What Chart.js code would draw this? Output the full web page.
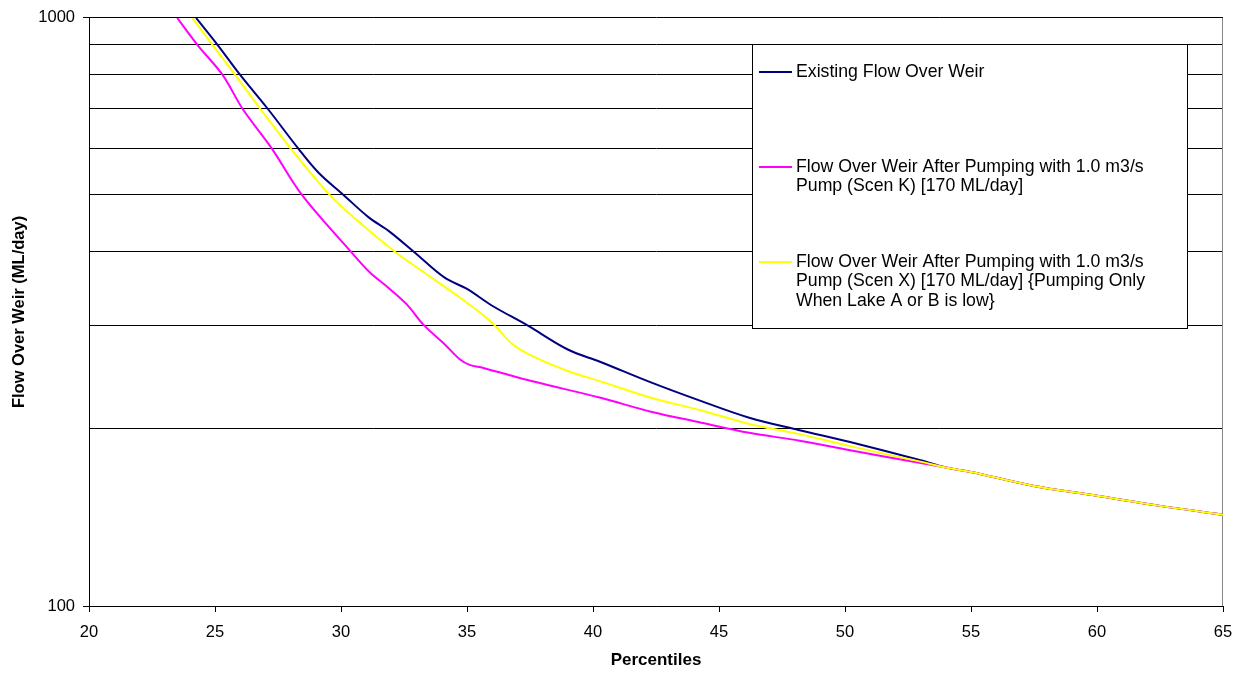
<!DOCTYPE html>
<html>
<head>
<meta charset="utf-8">
<script src="https://cdn.jsdelivr.net/npm/chart.js@4.4.1/dist/chart.umd.min.js"></script>
<style>
  html, body { margin: 0; padding: 0; background: #fff; }
  #wrap { width: 1244px; height: 673px; }
</style>
</head>
<body>
<div id="wrap"><canvas id="chart" width="1244" height="673"></canvas></div>
<script>
// Percentiles (x) and flow over weir in ML/day (y)
const existingPct  = [24.25, 25.1, 26.0, 27.1, 28.3, 29.1, 30.1, 31.1, 31.9, 32.9, 34.1, 35.0, 36.0, 37.4, 39.0, 40.3, 42.3, 44.3, 46.2, 48.2, 50.2, 53.0, 54.0, 55, 57.5, 60, 62.5, 65];
const existingFlow = [1000, 900, 800, 700, 600, 546, 500, 458, 434, 400, 362, 346, 324, 300, 273, 260, 240, 223, 209, 199, 190, 177, 172, 169, 160, 154, 148, 143];

const scenKPct  = [23.5, 24.3, 25.3, 26.1, 27.25, 28.45, 30.4, 31.15, 31.9, 32.6, 33.3, 34.1, 34.7, 35.1, 35.65, 37.6, 40.3, 42.3, 44.3, 46.2, 48.2, 50.2, 53.0, 54.0, 55, 57.5, 60, 62.5, 65];
const scenKFlow = [1000, 900, 800, 700, 600, 500, 400, 369, 347, 326, 300, 279, 263, 257, 254, 241, 226, 214, 205, 197, 191, 184, 175, 172, 169, 160, 154, 148, 143];

const scenXPct  = [24.1, 24.9, 25.8, 26.8, 28.0, 29.55, 30.6, 32.15, 33.3, 34.7, 35.7, 36.1, 36.8, 37.6, 39.0, 40.3, 42.3, 44.3, 46.2, 48.2, 50.2, 53.0, 54.0, 55, 57.5, 60, 62.5, 65];
const scenXFlow = [1000, 900, 800, 700, 600, 500, 454, 400, 369, 335, 311, 300, 279, 266, 251, 241, 226, 215, 204, 196, 187, 176, 172, 169, 160, 154, 148, 143];

const xTicks = [20, 25, 30, 35, 40, 45, 50, 55, 60, 65];
const yLabelled = [100, 1000];
const yGrid = [100, 200, 300, 400, 500, 600, 700, 800, 900, 1000];

const legendLines = [
  ['Existing Flow Over Weir'],
  ['Flow Over Weir After Pumping with 1.0 m3/s', 'Pump (Scen K) [170 ML/day]'],
  ['Flow Over Weir After Pumping with 1.0 m3/s', 'Pump (Scen X) [170 ML/day] {Pumping Only', 'When Lake A or B is low}']
];

const pts = (xs, ys) => xs.map((x, i) => ({ x, y: ys[i] }));

Chart.defaults.font.family = "'Liberation Sans', Arial, sans-serif";
Chart.defaults.color = '#000';

// boxed legend sitting inside the plot, like the spreadsheet one
const boxLegend = {
  id: 'boxLegend',
  afterDatasetsDraw(chart, args, o) {
    const ctx = chart.ctx;
    ctx.save();
    ctx.fillStyle = '#fff';
    ctx.fillRect(o.left, o.top, o.width, o.height);
    ctx.strokeStyle = '#000';
    ctx.lineWidth = 1;
    ctx.strokeRect(o.left + 0.5, o.top + 0.5, o.width, o.height);
    ctx.font = o.fontSize + "px 'Liberation Sans', Arial, sans-serif";
    ctx.textBaseline = 'middle';
    ctx.fillStyle = '#000';
    chart.data.datasets.forEach((ds, i) => {
      const y = o.top + o.firstLine + i * o.entryGap;
      ctx.strokeStyle = ds.borderColor;
      ctx.lineWidth = 2;
      ctx.beginPath();
      ctx.moveTo(o.left + 7, y);
      ctx.lineTo(o.left + 40, y);
      ctx.stroke();
      legendLines[i].forEach((t, k) => {
        ctx.fillText(t, o.left + 44, y + k * o.lineHeight);
      });
    });
    ctx.restore();
  }
};

const rightEdge = {
  id: 'rightEdge',
  beforeDatasetsDraw(chart) {
    const { ctx, chartArea: a } = chart;
    ctx.save();
    ctx.strokeStyle = '#888';
    ctx.lineWidth = 1;
    ctx.beginPath();
    ctx.moveTo(a.right - 0.5, a.top);
    ctx.lineTo(a.right - 0.5, a.bottom);
    ctx.stroke();
    ctx.restore();
  }
};

new Chart(document.getElementById('chart'), {
  type: 'line',
  data: {
    datasets: [
      {
        label: legendLines[0].join(' '),
        data: pts(existingPct, existingFlow),
        borderColor: '#000080',
        order: 3,
      },
      {
        label: legendLines[1].join(' '),
        data: pts(scenKPct, scenKFlow),
        borderColor: '#ff00ff',
        order: 2,
      },
      {
        label: legendLines[2].join(' '),
        data: pts(scenXPct, scenXFlow),
        borderColor: '#ffff00',
        order: 1,
      },
    ],
  },
  options: {
    responsive: false,
    animation: false,
    devicePixelRatio: 1,
    datasets: {
      line: { borderWidth: 2, pointRadius: 0, fill: false, tension: 0.35 },
    },
    layout: { padding: { left: 0, right: 21, top: 16, bottom: 0 } },
    plugins: {
      legend: { display: false },
      tooltip: { enabled: false },
      boxLegend: { left: 752, top: 44, width: 435, height: 284, firstLine: 28, entryGap: 95, lineHeight: 19.5, fontSize: 17.7 },
    },
    scales: {
      x: {
        type: 'linear',
        min: 20,
        max: 65,
        afterBuildTicks: s => { s.ticks = xTicks.map(v => ({ value: v })); },
        afterFit: s => { s.height = 67; },
        ticks: { autoSkip: false, maxRotation: 0, padding: 11, font: { size: 16.5 } },
        grid: { drawOnChartArea: false, drawTicks: true, tickLength: 6, tickColor: '#000' },
        border: { display: true, color: '#000', width: 1 },
        title: { display: true, text: 'Percentiles', font: { size: 17, weight: 'bold' }, padding: { top: 0, bottom: 2 } },
      },
      y: {
        type: 'logarithmic',
        min: 100,
        max: 1000,
        afterBuildTicks: s => { s.ticks = yGrid.map(v => ({ value: v })); },
        afterFit: s => { s.width = 89; },
        ticks: {
          autoSkip: false,
          padding: 8,
          font: { size: 16.5 },
          callback: v => yLabelled.includes(v) ? String(v) : '',
        },
        grid: {
          color: '#000',
          lineWidth: 1,
          drawTicks: true,
          tickLength: 6,
          tickColor: c => yLabelled.includes(c.tick.value) ? '#000' : 'rgba(0,0,0,0)',
        },
        border: { display: true, color: '#000', width: 1 },
        title: { display: true, text: 'Flow Over Weir (ML/day)', font: { size: 16.5, weight: 'bold' }, padding: { top: 10, bottom: 0 } },
      },
    },
  },
  plugins: [rightEdge, boxLegend],
});
</script>
</body>
</html>
